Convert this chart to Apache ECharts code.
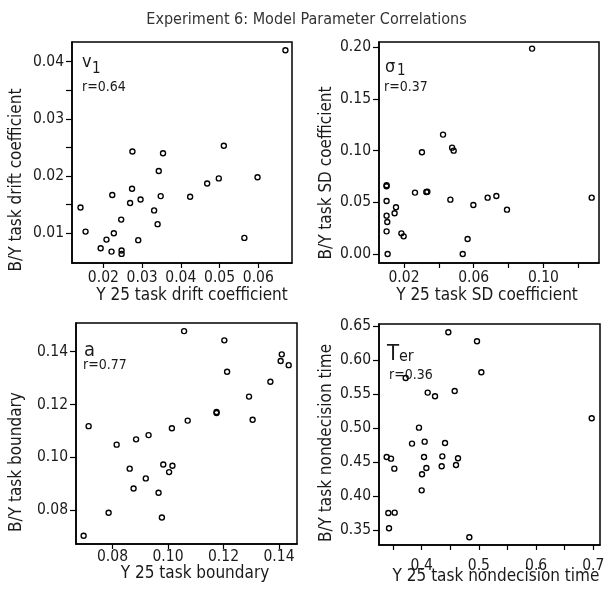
<!DOCTYPE html>
<html>
<head>
<meta charset="utf-8">
<script src="https://cdn.jsdelivr.net/npm/echarts@6/dist/echarts.min.js"></script>
<style>html,body{margin:0;padding:0;background:#fff}#c{width:613px;height:594px}</style>
</head>
<body>
<div id="c"></div>
<script>
// ---- Data ----
const chartTitle = 'Experiment 6: Model Parameter Correlations';

// Panel 1: drift coefficient v1
const driftY25 = [0.0670,0.0275,0.0354,0.0511,0.0343,0.0598,0.0498,0.0468,0.0274,0.0223,0.0348,0.0424,0.0296,0.0269,0.0141,0.0331,0.0246,0.0340,0.0154,0.0227,0.0564,0.0208,0.0290,0.0193,0.0221,0.0247,0.0247];
const driftBY  = [0.0420,0.0243,0.0240,0.0253,0.0209,0.0198,0.0196,0.0187,0.0178,0.0167,0.0165,0.0164,0.0159,0.0153,0.0145,0.0140,0.0124,0.0116,0.0103,0.0100,0.0092,0.0089,0.0088,0.0074,0.0068,0.0070,0.0064];

// Panel 2: SD coefficient sigma1
const sdY25 = [0.0935,0.0424,0.0476,0.0485,0.0303,0.0100,0.0100,0.0263,0.0328,0.0334,0.0100,0.0466,0.0680,0.0730,0.1277,0.0598,0.0791,0.0154,0.0146,0.0100,0.0104,0.0100,0.0185,0.0198,0.0565,0.0106,0.0537];
const sdBY  = [0.1987,0.1155,0.1029,0.1000,0.0984,0.0665,0.0655,0.0594,0.0600,0.0602,0.0513,0.0526,0.0545,0.0561,0.0545,0.0474,0.0429,0.0452,0.0394,0.0371,0.0310,0.0219,0.0200,0.0171,0.0145,0.0000,0.0000];

// Panel 3: boundary a
const boundY25 = [0.1058,0.1203,0.1410,0.1406,0.1435,0.1213,0.1369,0.1292,0.1305,0.1175,0.1175,0.1071,0.1014,0.0714,0.0930,0.0885,0.0815,0.0983,0.1016,0.0862,0.1004,0.0920,0.0876,0.0966,0.0786,0.0978,0.0696];
const boundBY  = [0.1478,0.1443,0.1390,0.1365,0.1349,0.1324,0.1286,0.1230,0.1142,0.1172,0.1168,0.1139,0.1110,0.1118,0.1084,0.1068,0.1048,0.0973,0.0968,0.0957,0.0944,0.0920,0.0882,0.0866,0.0790,0.0772,0.0703];

// Panel 4: nondecision time Ter
const terY25 = [0.4466,0.4967,0.5043,0.3720,0.4105,0.4233,0.4577,0.6972,0.3953,0.3831,0.4052,0.4408,0.3388,0.3464,0.4041,0.4361,0.4635,0.3522,0.4082,0.4350,0.4600,0.4006,0.4000,0.3417,0.3528,0.3429,0.4833];
const terBY  = [0.6407,0.6275,0.5819,0.5735,0.5520,0.5466,0.5544,0.5142,0.5005,0.4770,0.4799,0.4779,0.4574,0.4549,0.4574,0.4583,0.4554,0.4402,0.4412,0.4436,0.4456,0.4319,0.4083,0.3750,0.3755,0.3525,0.3392];

// Tick values / tick labels
const driftXTicks = [0.02,0.03,0.04,0.05,0.06];
const driftYTicks = [0.01,0.015,0.02,0.025,0.03,0.035,0.04];
const driftYLabels = [0.01,0.02,0.03,0.04];
const sdXTicks = [0.02,0.04,0.06,0.08,0.10,0.12];
const sdXLabels = [0.02,0.06,0.10];
const sdYTicks = [0.00,0.05,0.10,0.15,0.20];
const boundXTicks = [0.08,0.10,0.12,0.14];
const boundYTicks = [0.08,0.10,0.12,0.14];
const terXTicks = [0.35,0.40,0.45,0.50,0.55,0.60,0.65,0.70];
const terXLabels = [0.4,0.5,0.6,0.7];
const terYTicks = [0.35,0.40,0.45,0.50,0.55,0.60,0.65];

// Axis titles and panel tags
const xNames = ['Y 25 task drift coefficient','Y 25 task SD coefficient','Y 25 task boundary','Y 25 task nondecision time'];
const yNames = ['B/Y task drift coefficient','B/Y task SD coefficient','B/Y task boundary','B/Y task nondecision time'];
const rValues = ['r=0.64','r=0.37','r=0.77','r=0.36'];

// ---- Chart ----
const FAM = "'DejaVu Sans Condensed', 'DejaVu Sans', sans-serif";
const TXT = '#1a1a1a';
const chart = echarts.init(document.getElementById('c'), null, {renderer:'canvas'});

const grids = [
  {left:72, top:42, width:220, height:221},
  {left:379, top:42, width:220, height:221},
  {left:76, top:323, width:221, height:221},
  {left:379, top:324, width:221, height:221}
];
const xRanges = [[0.0119,0.0687],[0.00565,0.1319],[0.06685,0.14649],[0.3254,0.7117]];
const yRanges = [[0.00481,0.04344],[-0.0087,0.2051],[0.06716,0.15087],[0.3279,0.6529]];
const xTickSets = [driftXTicks, sdXTicks, boundXTicks, terXTicks];
const xLabelSets = [driftXTicks, sdXLabels, boundXTicks, terXLabels];
const yTickSets = [driftYTicks, sdYTicks, boundYTicks, terYTicks];
const yLabelSets = [driftYLabels, sdYTicks, boundYTicks, terYTicks];
const xDec = [2,2,2,1];
const xLabelMargin = [7,7,5,13];
const xs = [driftY25, sdY25, boundY25, terY25];
const ys = [driftBY, sdBY, boundBY, terBY];

const xAxis = [], yAxis = [], series = [];
for (let i = 0; i < 4; i++) {
  xAxis.push({
    type:'value', gridIndex:i, min:xRanges[i][0], max:xRanges[i][1],
    splitLine:{show:false},
    axisLine:{show:true, onZero:false, lineStyle:{color:'#000', width:1.5}},
    axisTick:{show:true, length:5, customValues:xTickSets[i], lineStyle:{color:'#000', width:1.2}},
    axisLabel:{customValues:xLabelSets[i], margin:xLabelMargin[i], color:TXT, fontSize:15.5, fontFamily:FAM,
      formatter:(v)=>Number(v).toFixed(xDec[i])}
  });
  yAxis.push({
    type:'value', gridIndex:i, min:yRanges[i][0], max:yRanges[i][1],
    splitLine:{show:false},
    axisLine:{show:true, onZero:false, lineStyle:{color:'#000', width:1.5}},
    axisTick:{show:true, length:6, customValues:yTickSets[i], lineStyle:{color:'#000', width:1.2}},
    axisLabel:{customValues:yLabelSets[i], margin:8, color:TXT, fontSize:15.5, fontFamily:FAM,
      formatter:(v)=>Number(v).toFixed(2)}
  });
  series.push({
    type:'scatter', xAxisIndex:i, yAxisIndex:i,
    data: xs[i].map((x,k)=>[x, ys[i][k]]),
    symbol:'circle', symbolSize:5,
    itemStyle:{color:'rgba(0,0,0,0)', borderColor:'#000', borderWidth:1.4, opacity:1},
    emphasis:{disabled:true}, silent:true
  });
}

const g = [];
// axis titles
const xNamePos = [[192,296],[487,296],[195,574],[496,577]];
const yNamePos = [[17,180],[327,173],[17,462],[327,443]];
for (let i = 0; i < 4; i++) {
  g.push({type:'text', x:xNamePos[i][0], y:xNamePos[i][1],
    style:{text:xNames[i], font:"17px " + FAM, fill:TXT, align:'center', verticalAlign:'middle'}});
  g.push({type:'text', x:yNamePos[i][0], y:yNamePos[i][1], rotation:Math.PI/2,
    style:{text:yNames[i], font:"17px " + FAM, fill:TXT, align:'center', verticalAlign:'middle'}});
}
// panel tags
const tag = (t, x, y, size) => ({type:'text', x:x, y:y, style:{text:t, font:size+"px " + FAM, fill:TXT, align:'left', verticalAlign:'alphabetic'}});
g.push(tag('v', 82, 53.5, 18), tag('1', 92, 62, 15), tag(rValues[0], 82, 80, 14));
g.push(tag('\u03c3', 385, 58, 18), tag('1', 397, 64, 15), tag(rValues[1], 384, 80, 14));
g.push(tag('a', 84, 341, 20), tag(rValues[2], 83, 358, 14));
g.push(tag('T', 387, 343, 22), tag('er', 399, 349, 16), tag(rValues[3], 389, 368, 14));

chart.setOption({
  animation:false,
  backgroundColor:'#fff',
  title:{text:chartTitle, left:'center', top:7, textStyle:{fontFamily:FAM, fontSize:16, fontWeight:'normal', color:'#333'}},
  grid: grids.map(gr => Object.assign({show:true, borderColor:'#000', borderWidth:1.5, backgroundColor:'rgba(0,0,0,0)'}, gr)),
  xAxis, yAxis, series,
  graphic: g
});
</script>
</body>
</html>
